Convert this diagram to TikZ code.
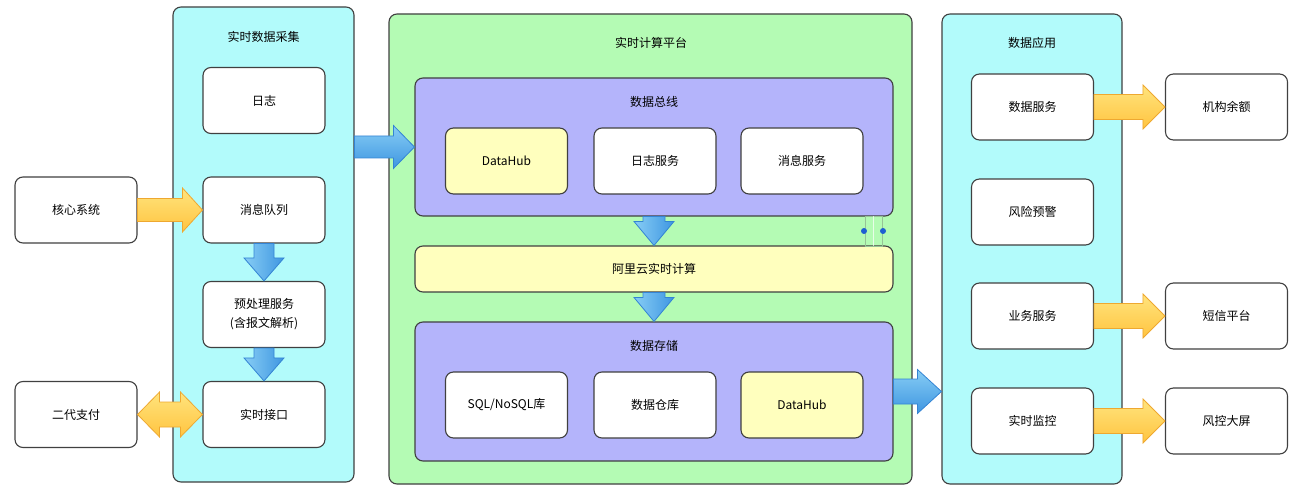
\documentclass[tikz,border=0pt]{standalone}
\usepackage{fontspec}
\setmainfont{Noto Sans CJK SC}
\usetikzlibrary{calc}
\definecolor{cyanbg}{RGB}{178,251,251}
\definecolor{greenbg}{RGB}{180,251,180}
\definecolor{purplebg}{RGB}{180,180,251}
\definecolor{yellowc}{RGB}{255,255,190}
\definecolor{strokec}{RGB}{64,64,64}
\definecolor{ylight}{RGB}{255,228,125}
\definecolor{ydark}{RGB}{255,196,64}
\definecolor{yborder}{RGB}{238,168,48}
\definecolor{blight}{RGB}{135,205,245}
\definecolor{bdark}{RGB}{62,150,225}
\definecolor{bborder}{RGB}{52,132,212}
\definecolor{dotc}{RGB}{30,95,210}
\definecolor{artc}{RGB}{150,195,150}
\newcommand\rblock[6]{\path[#1] let \p1=(#2), \p2=(#3) in (\x1,\y1+#4) -- (\x2-#6,\y1+#4) -- (\x2-#6,\y1+#5) -- (\x2,\y1) -- (\x2-#6,\y1-#5) -- (\x2-#6,\y1-#4) -- (\x1,\y1-#4) -- cycle;}
\newcommand\dblock[6]{\path[#1] let \p1=(#2), \p2=(#3) in (\x1-#4,\y1) -- (\x1-#4,\y2+#6) -- (\x1-#5,\y2+#6) -- (\x1,\y2) -- (\x1+#5,\y2+#6) -- (\x1+#4,\y2+#6) -- (\x1+#4,\y1) -- cycle;}
\newcommand\lrblock[6]{\path[#1] let \p1=(#2), \p2=(#3) in (\x1,\y1) -- (\x1+#6,\y1+#5) -- (\x1+#6,\y1+#4) -- (\x2-#6,\y1+#4) -- (\x2-#6,\y1+#5) -- (\x2,\y1) -- (\x2-#6,\y1-#5) -- (\x2-#6,\y1-#4) -- (\x1+#6,\y1-#4) -- (\x1+#6,\y1-#5) -- cycle;}
\tikzset{
  base/.style={draw=strokec, line width=1.1pt, rounded corners=8pt, align=center, inner sep=0pt, font=\fontsize{12}{19}\selectfont},
  wbox/.style={base, fill=white, minimum width=122pt, minimum height=66pt},
  ybox/.style={wbox, fill=yellowc},
  ttl/.style={font=\fontsize{12}{15}\selectfont, inner sep=0pt},
  yarrow/.style={draw=yborder, line width=0.8pt, top color=ylight, bottom color=ydark, line join=miter},
  barrow/.style={draw=bborder, line width=0.8pt, top color=blight, bottom color=bdark, line join=miter},
  bdarrow/.style={draw=bborder, line width=0.8pt, left color=blight, right color=bdark, line join=miter},
}
\begin{document}
\begin{tikzpicture}[x=1pt,y=-1pt]
\useasboundingbox (0,0) rectangle (1296,486);
% containers
\node[base, fill=cyanbg, minimum width=181pt, minimum height=475pt] (col1) at (263.5,244.5) {};
\node[ttl] (col1t) at (263.5,37) {实时数据采集};
\node[base, fill=greenbg, minimum width=523pt, minimum height=470pt] (plat) at (650.5,249) {};
\node[ttl] (platt) at (651,43) {实时计算平台};
\node[base, fill=cyanbg, minimum width=180pt, minimum height=470pt] (app) at (1032,249) {};
\node[ttl] (appt) at (1032,43) {数据应用};
\node[base, fill=purplebg, minimum width=478pt, minimum height=138pt] (bus) at (654,147) {};
\node[ttl] (bust) at (654,102) {数据总线};
\node[base, fill=yellowc, minimum width=478pt, minimum height=46pt] (ali) at (654,269) {阿里云实时计算};
\node[base, fill=purplebg, minimum width=478pt, minimum height=139pt] (store) at (654,391.5) {};
\node[ttl] (storet) at (654,346) {数据存储};
% left column boxes
\node[wbox] (rz) at (264,100.5) {日志};
\node[wbox] (xxdl) at (264,210) {消息队列};
\node[wbox] (ycl) at (264,314.5) {预处理服务\\(含报文解析)};
\node[wbox] (sjjk) at (264,414.5) {实时接口};
\node[wbox] (hx) at (76,210) {核心系统};
\node[wbox] (edzf) at (76,414.5) {二代支付};
% bus boxes
\node[ybox] (dh1) at (506.5,161) {DataHub};
\node[wbox] (rzfw) at (655,161) {日志服务};
\node[wbox] (xxfw) at (802,161) {消息服务};
% storage boxes
\node[wbox] (sql) at (506.5,405) {SQL/NoSQL库};
\node[wbox] (ck) at (655,405) {数据仓库};
\node[ybox] (dh2) at (802,405) {DataHub};
% app boxes
\node[wbox] (sjfw) at (1032.5,107) {数据服务};
\node[wbox] (fxyj) at (1032.5,212) {风险预警};
\node[wbox] (ywfw) at (1032.5,316) {业务服务};
\node[wbox] (sjjc) at (1032.5,421) {实时监控};
\node[wbox] (jgye) at (1226.5,107) {机构余额};
\node[wbox] (dxpt) at (1226.5,316) {短信平台};
\node[wbox] (fkdp) at (1226.5,421) {风控大屏};
% small selection artifact
\draw[artc, line width=0.6pt] (865,216) rectangle (882,246);
\draw[white, opacity=0.7, line width=0.8pt] (873.5,216) -- (873.5,246);
\fill[dotc] (864,231) circle (3pt) (883,231) circle (3pt);
% arrows
\rblock{yarrow}{hx.east}{xxdl.west}{11.5pt}{22pt}{20pt}
\lrblock{yarrow}{edzf.east}{sjjk.west}{12.5pt}{22.5pt}{22pt}
\dblock{bdarrow}{xxdl.south}{ycl.north}{10pt}{20pt}{23pt}
\dblock{bdarrow}{ycl.south}{sjjk.north}{10pt}{20pt}{23pt}
\rblock{barrow}{col1.east |- bus.west}{bus.west}{11pt}{21.5pt}{21pt}
\dblock{bdarrow}{bus.south}{ali.north}{11pt}{20pt}{24pt}
\dblock{bdarrow}{ali.south}{store.north}{11pt}{20pt}{24pt}
\rblock{barrow}{store.east}{app.west}{12.5pt}{22pt}{24pt}
\rblock{yarrow}{sjfw.east}{jgye.west}{12.5pt}{22pt}{22pt}
\rblock{yarrow}{ywfw.east}{dxpt.west}{12.5pt}{22pt}{22pt}
\rblock{yarrow}{sjjc.east}{fkdp.west}{12.5pt}{22pt}{22pt}
\end{tikzpicture}
\end{document}
